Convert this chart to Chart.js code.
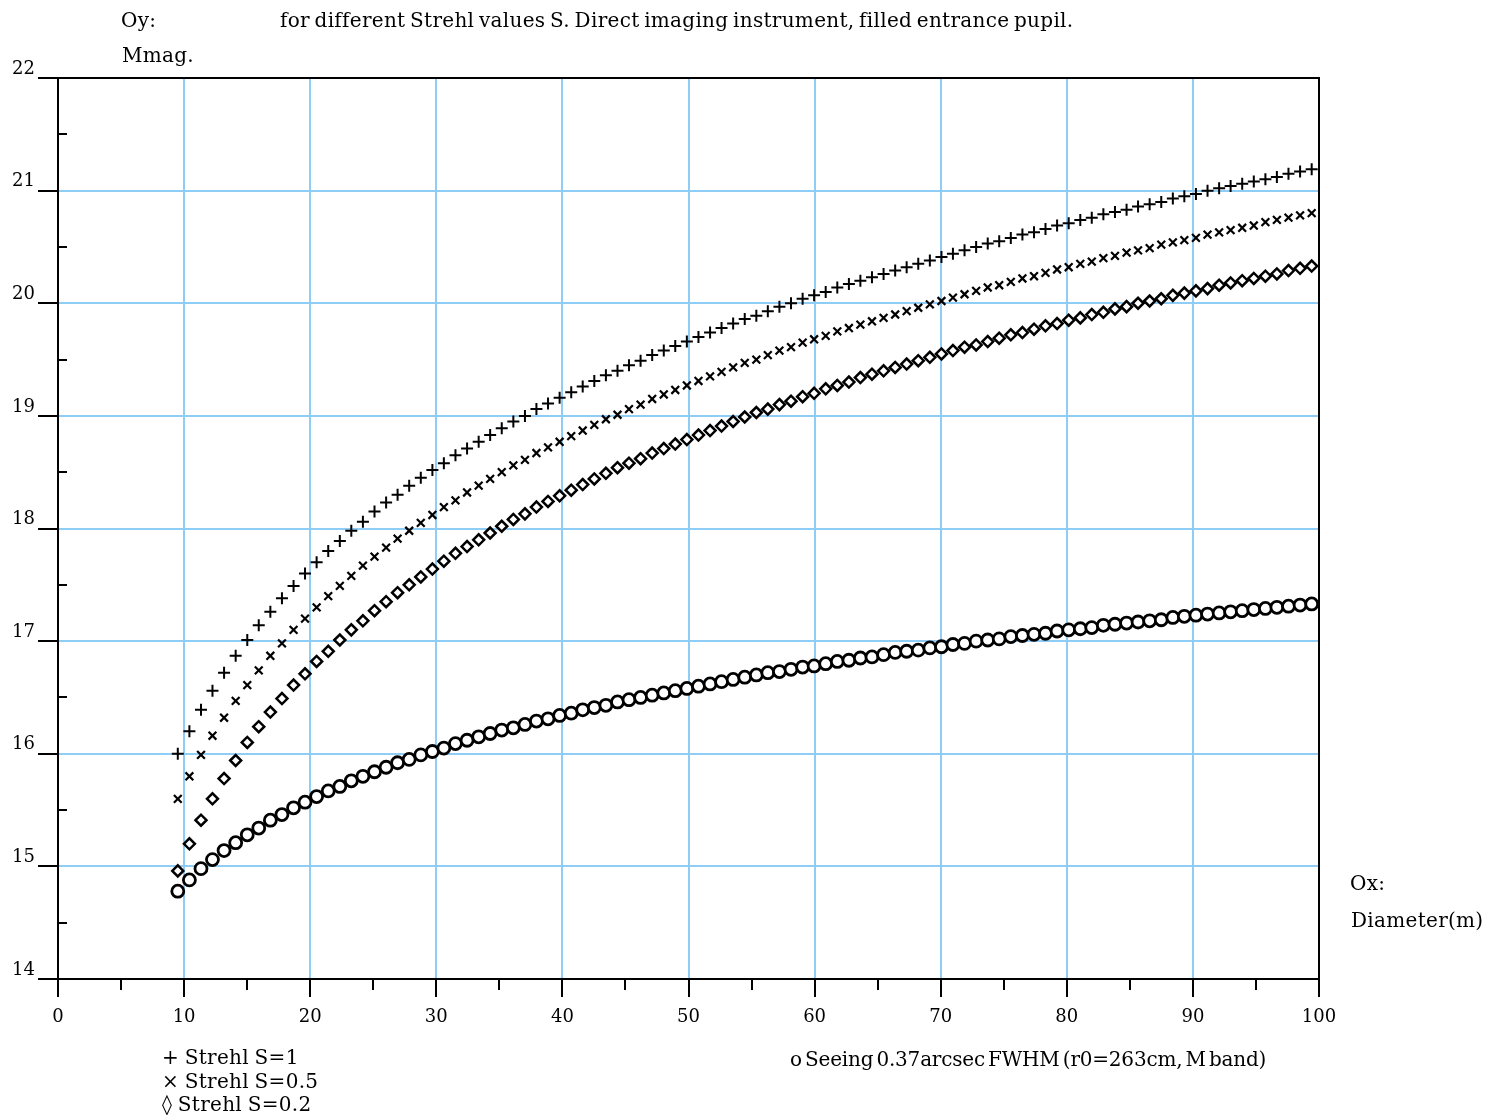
<!DOCTYPE html>
<html>
<head>
<meta charset="utf-8">
<title>Mmag vs Diameter</title>
<script src="https://cdn.jsdelivr.net/npm/chart.js@4.4.1/dist/chart.umd.min.js"></script>
<style>
  html, body { margin: 0; padding: 0; background: #fff; }
  #wrap { position: relative; width: 1506px; height: 1115px; overflow: hidden; }
  #chart { position: absolute; left: 0; top: 0; }
  .txt {
    position: absolute;
    font-family: 'DejaVu Serif', serif;
    font-size: 20px;
    line-height: 20px;
    color: #000;
    white-space: nowrap;
    letter-spacing: 0.3px;
    word-spacing: -2px;
  }
</style>
</head>
<body>
<div id="wrap">
  <canvas id="chart" width="1506" height="1115"></canvas>
  <div class="txt" style="left:121px; top:10px;">Oy:</div>
  <div class="txt" style="left:280px; top:10px;">for different Strehl values S. Direct imaging instrument, filled entrance pupil.</div>
  <div class="txt" style="left:122px; top:45px;">Mmag.</div>
  <div class="txt" style="left:1350px; top:873px;">Ox:</div>
  <div class="txt" style="left:1351px; top:910px;">Diameter(m)</div>
  <div class="txt" style="left:162px; top:1047px; word-spacing:-1px;">+ Strehl S=1</div>
  <div class="txt" style="left:162px; top:1071px; word-spacing:-1px;">× Strehl S=0.5</div>
  <div class="txt" style="left:162px; top:1094px; word-spacing:-1px;">◊ Strehl S=0.2</div>
  <div class="txt" style="left:790px; top:1049px; letter-spacing:-0.2px; word-spacing:-3px;">o Seeing 0.37arcsec FWHM (r0=263cm, M band)</div>
</div>

<script>
// telescope diameter (m)
const diameters = [
    9.50, 10.42, 11.34, 12.25, 13.17, 14.09, 15.01, 15.92, 16.84, 17.76,
    18.68, 19.59, 20.51, 21.43, 22.35, 23.26, 24.18, 25.10, 26.02, 26.93,
    27.85, 28.77, 29.69, 30.60, 31.52, 32.44, 33.36, 34.27, 35.19, 36.11,
    37.03, 37.94, 38.86, 39.78, 40.70, 41.61, 42.53, 43.45, 44.37, 45.28,
    46.20, 47.12, 48.04, 48.95, 49.87, 50.79, 51.71, 52.62, 53.54, 54.46,
    55.38, 56.29, 57.21, 58.13, 59.05, 59.96, 60.88, 61.80, 62.72, 63.63,
    64.55, 65.47, 66.39, 67.30, 68.22, 69.14, 70.06, 70.97, 71.89, 72.81,
    73.73, 74.64, 75.56, 76.48, 77.40, 78.31, 79.23, 80.15, 81.07, 81.98,
    82.90, 83.82, 84.74, 85.65, 86.57, 87.49, 88.41, 89.32, 90.24, 91.16,
    92.08, 92.99, 93.91, 94.83, 95.75, 96.66, 97.58, 98.50, 99.42
];

// limiting magnitude, Strehl S=1
const strehl1 = [
    16.00, 16.20, 16.39, 16.56, 16.72, 16.87, 17.01, 17.14, 17.26, 17.38,
    17.49, 17.60, 17.70, 17.80, 17.89, 17.98, 18.06, 18.15, 18.23, 18.30,
    18.38, 18.45, 18.52, 18.58, 18.65, 18.71, 18.77, 18.83, 18.89, 18.95,
    19.00, 19.06, 19.11, 19.16, 19.21, 19.26, 19.31, 19.36, 19.40, 19.45,
    19.49, 19.54, 19.58, 19.62, 19.66, 19.70, 19.74, 19.78, 19.82, 19.86,
    19.89, 19.93, 19.97, 20.00, 20.04, 20.07, 20.10, 20.14, 20.17, 20.20,
    20.23, 20.26, 20.29, 20.32, 20.35, 20.38, 20.41, 20.44, 20.47, 20.50,
    20.53, 20.55, 20.58, 20.61, 20.63, 20.66, 20.69, 20.71, 20.74, 20.76,
    20.79, 20.81, 20.83, 20.86, 20.88, 20.90, 20.93, 20.95, 20.97, 21.00,
    21.02, 21.04, 21.06, 21.08, 21.10, 21.12, 21.15, 21.17, 21.19
];

// Strehl S=0.5
const strehl05 = [
    15.60, 15.80, 15.99, 16.16, 16.32, 16.47, 16.61, 16.74, 16.87, 16.98,
    17.10, 17.20, 17.30, 17.40, 17.49, 17.58, 17.67, 17.75, 17.83, 17.91,
    17.98, 18.05, 18.12, 18.19, 18.25, 18.32, 18.38, 18.44, 18.50, 18.56,
    18.61, 18.67, 18.72, 18.77, 18.82, 18.87, 18.92, 18.97, 19.01, 19.06,
    19.10, 19.15, 19.19, 19.23, 19.27, 19.31, 19.35, 19.39, 19.43, 19.47,
    19.50, 19.54, 19.58, 19.61, 19.65, 19.68, 19.71, 19.75, 19.78, 19.81,
    19.84, 19.87, 19.90, 19.93, 19.96, 19.99, 20.02, 20.05, 20.08, 20.11,
    20.14, 20.16, 20.19, 20.22, 20.24, 20.27, 20.30, 20.32, 20.35, 20.37,
    20.40, 20.42, 20.45, 20.47, 20.49, 20.52, 20.54, 20.56, 20.58, 20.61,
    20.63, 20.65, 20.67, 20.69, 20.72, 20.74, 20.76, 20.78, 20.80
];

// Strehl S=0.2
const strehl02 = [
    14.96, 15.20, 15.41, 15.60, 15.78, 15.94, 16.10, 16.24, 16.37, 16.49,
    16.61, 16.71, 16.82, 16.91, 17.01, 17.10, 17.18, 17.27, 17.35, 17.43,
    17.50, 17.57, 17.64, 17.71, 17.78, 17.84, 17.90, 17.96, 18.02, 18.08,
    18.13, 18.19, 18.24, 18.29, 18.34, 18.39, 18.44, 18.49, 18.54, 18.58,
    18.62, 18.67, 18.71, 18.75, 18.79, 18.83, 18.87, 18.91, 18.95, 18.99,
    19.03, 19.06, 19.10, 19.13, 19.17, 19.20, 19.24, 19.27, 19.30, 19.34,
    19.37, 19.40, 19.43, 19.46, 19.49, 19.52, 19.55, 19.58, 19.61, 19.63,
    19.66, 19.69, 19.72, 19.74, 19.77, 19.80, 19.82, 19.85, 19.87, 19.90,
    19.92, 19.95, 19.97, 20.00, 20.02, 20.04, 20.07, 20.09, 20.11, 20.13,
    20.16, 20.18, 20.20, 20.22, 20.24, 20.26, 20.29, 20.31, 20.33
];

// seeing limited, 0.37 arcsec FWHM
const seeing = [
    14.78, 14.88, 14.98, 15.06, 15.14, 15.21, 15.28, 15.34, 15.41, 15.46,
    15.52, 15.57, 15.62, 15.67, 15.71, 15.76, 15.80, 15.84, 15.88, 15.92,
    15.95, 15.99, 16.02, 16.05, 16.09, 16.12, 16.15, 16.18, 16.21, 16.23,
    16.26, 16.29, 16.31, 16.34, 16.36, 16.39, 16.41, 16.43, 16.46, 16.48,
    16.50, 16.52, 16.54, 16.56, 16.58, 16.60, 16.62, 16.64, 16.66, 16.68,
    16.70, 16.72, 16.73, 16.75, 16.77, 16.78, 16.80, 16.82, 16.83, 16.85,
    16.86, 16.88, 16.90, 16.91, 16.92, 16.94, 16.95, 16.97, 16.98, 17.00,
    17.01, 17.02, 17.04, 17.05, 17.06, 17.07, 17.09, 17.10, 17.11, 17.12,
    17.14, 17.15, 17.16, 17.17, 17.18, 17.19, 17.21, 17.22, 17.23, 17.24,
    17.25, 17.26, 17.27, 17.28, 17.29, 17.30, 17.31, 17.32, 17.33
];

const xMin = 0, xMax = 100, xStep = 10;
const yMin = 14, yMax = 22, yStep = 1;

const GRID_BLUE = '#8fcdf6';

const toPoints = (ys) => diameters.map((d, i) => ({ x: d, y: ys[i] }));

// top/right frame + minor ticks
const frameTicks = {
    id: 'frameTicks',
    afterDraw(chart) {
        const { ctx, chartArea: a, scales } = chart;
        ctx.save();
        ctx.strokeStyle = '#000';
        ctx.lineWidth = 2;
        ctx.beginPath();
        ctx.moveTo(a.left, a.top);
        ctx.lineTo(a.right, a.top);
        ctx.lineTo(a.right, a.bottom);
        ctx.stroke();

        ctx.beginPath();
        for (let v = xMin + xStep / 2; v < xMax; v += xStep) {
            const px = Math.round(scales.x.getPixelForValue(v));
            ctx.moveTo(px, a.bottom);
            ctx.lineTo(px, a.bottom + 11);
        }
        for (let v = yMin + yStep / 2; v < yMax; v += yStep) {
            const py = Math.round(scales.y.getPixelForValue(v));
            ctx.moveTo(a.left, py);
            ctx.lineTo(a.left + 9, py);
        }
        ctx.stroke();
        ctx.restore();
    }
};

Chart.defaults.font.family = "'DejaVu Serif', serif";
Chart.defaults.color = '#000';

new Chart(document.getElementById('chart'), {
    type: 'scatter',
    data: {
        datasets: [
            {
                label: 'Strehl S=1',
                data: toPoints(strehl1),
                pointStyle: 'cross',
                pointRadius: 6,
                borderColor: '#000',
                borderWidth: 2
            },
            {
                label: 'Strehl S=0.5',
                data: toPoints(strehl05),
                pointStyle: 'crossRot',
                pointRadius: 5.5,
                borderColor: '#000',
                borderWidth: 2.2
            },
            {
                label: 'Strehl S=0.2',
                data: toPoints(strehl02),
                pointStyle: 'rectRot',
                pointRadius: 5.5,
                borderColor: '#000',
                backgroundColor: '#fff',
                borderWidth: 2.5
            },
            {
                label: 'Seeing 0.37arcsec FWHM (r0=263cm, M band)',
                data: toPoints(seeing),
                pointStyle: 'circle',
                pointRadius: 6,
                borderColor: '#000',
                backgroundColor: '#fff',
                borderWidth: 2.8
            }
        ]
    },
    options: {
        responsive: false,
        animation: false,
        clip: false,
        layout: { padding: { left: 0, top: 78, right: 187, bottom: 0 } },
        plugins: {
            legend: { display: false },
            tooltip: { enabled: false }
        },
        scales: {
            x: {
                type: 'linear',
                min: xMin,
                max: xMax,
                afterFit: (scale) => { scale.height = 136; },
                grid: {
                    color: GRID_BLUE,
                    lineWidth: 2,
                    tickColor: '#000',
                    tickLength: 18,
                    tickWidth: 2
                },
                border: { color: '#000', width: 2 },
                ticks: {
                    stepSize: xStep,
                    padding: 10,
                    maxRotation: 0,
                    autoSkip: false,
                    font: { size: 18 }
                }
            },
            y: {
                type: 'linear',
                min: yMin,
                max: yMax,
                afterFit: (scale) => { scale.width = 58; },
                grid: {
                    color: GRID_BLUE,
                    lineWidth: 2,
                    tickColor: '#000',
                    tickLength: 20,
                    tickWidth: 2
                },
                border: { color: '#000', width: 2 },
                ticks: {
                    stepSize: yStep,
                    padding: 3,
                    labelOffset: -9,
                    autoSkip: false,
                    font: { size: 18 }
                }
            }
        }
    },
    plugins: [frameTicks]
});
</script>
</body>
</html>
